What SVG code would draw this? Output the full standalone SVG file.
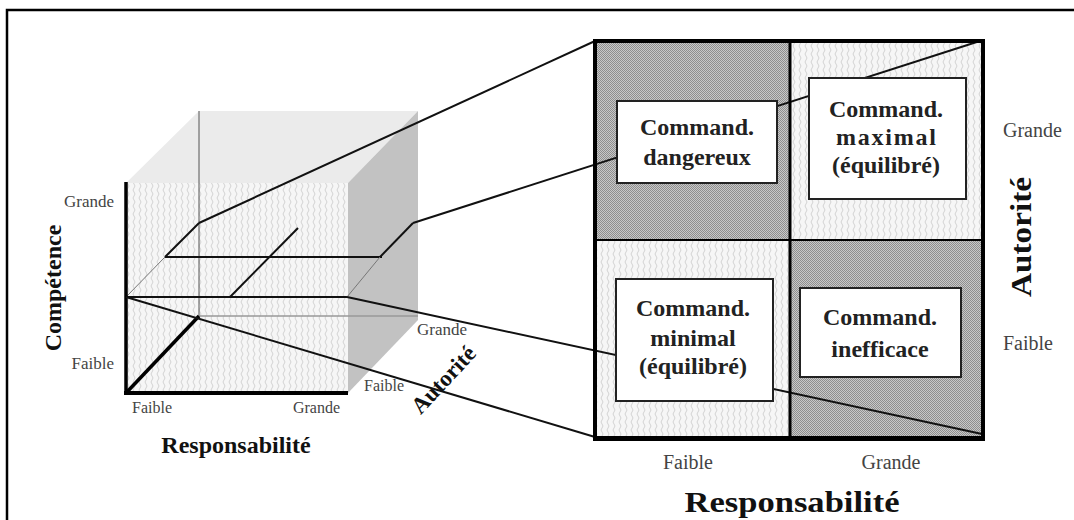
<svg xmlns="http://www.w3.org/2000/svg" width="1074" height="520" viewBox="0 0 1074 520">
<defs>
<pattern id="wave" width="6" height="8" patternUnits="userSpaceOnUse">
<rect width="6" height="8" fill="#f6f6f6"/>
<path d="M2,0 Q4,2 2,4 Q0,6 2,8" fill="none" stroke="#d2d2d2" stroke-width="1"/>
</pattern>
<pattern id="dots" width="2" height="2" patternUnits="userSpaceOnUse">
<rect width="2" height="2" fill="#c8c8c8"/>
<rect width="1" height="1" fill="#8e8e8e"/>
<rect x="1" y="1" width="1" height="1" fill="#8e8e8e"/>
</pattern>
</defs>
<style>
.lbl{font-family:"Liberation Serif","Times New Roman",serif;fill:#444}
.ttl{font-family:"Liberation Serif","Times New Roman",serif;font-weight:bold;fill:#111}
.box{fill:#fff;stroke:#222;stroke-width:2}
.btxt{font-family:"Liberation Serif","Times New Roman",serif;font-weight:bold;font-size:24px;fill:#222;text-anchor:middle}
.ln{stroke:#111;stroke-width:2;fill:none}
.conn{stroke:#111;stroke-width:2;fill:none}
</style>
<rect width="1074" height="520" fill="#fff"/>
<path d="M7,530 V10 H1080" fill="none" stroke="#000" stroke-width="2.5"/>

<g id="cube">
<polygon points="126,183 199,111 418,111 348,183" fill="#ebebeb"/>
<rect x="126" y="183" width="222" height="210" fill="url(#wave)"/>
<polygon points="348,183 418,111 418,320 348,393" fill="#c2c2c2"/>
<line x1="199" y1="111" x2="199" y2="316" stroke="#555" stroke-width="1"/>
<line x1="199" y1="316" x2="418" y2="316" stroke="#999" stroke-width="1.5"/>
<line x1="165" y1="257" x2="382" y2="257" class="ln"/>
<line x1="126" y1="297" x2="347" y2="297" class="ln"/>
<line x1="199" y1="223" x2="165" y2="257" class="ln"/>
<line x1="165" y1="257" x2="126" y2="297" stroke="#777" stroke-width="1"/>
<line x1="298" y1="228" x2="230" y2="297" class="ln"/>
<line x1="413" y1="223" x2="380" y2="257" class="ln"/>
<line x1="380" y1="257" x2="347" y2="297" stroke="#777" stroke-width="1"/>
<line x1="126" y1="182" x2="126" y2="395" stroke="#000" stroke-width="3.5"/>
<line x1="124" y1="393" x2="348" y2="393" stroke="#000" stroke-width="4"/>
<line x1="126" y1="393" x2="199" y2="316" stroke="#000" stroke-width="3.5"/>
</g>

<g id="matrix">
<rect x="595" y="41" width="195" height="199" fill="url(#dots)"/>
<rect x="790" y="41" width="193" height="199" fill="url(#wave)"/>
<rect x="595" y="240" width="195" height="198" fill="url(#wave)"/>
<rect x="790" y="240" width="193" height="198" fill="url(#dots)"/>
</g>

<g id="connectors">
<line x1="199" y1="223" x2="595" y2="41" class="conn"/>
<line x1="413" y1="223" x2="983" y2="40" class="conn"/>
<line x1="126" y1="297" x2="595" y2="437" class="conn"/>
<line x1="347" y1="297" x2="982" y2="434" class="conn"/>
</g>

<g id="matrix-frame" fill="none" stroke="#000">
<line x1="595" y1="240" x2="983" y2="240" stroke-width="2"/>
<line x1="790" y1="41" x2="790" y2="438" stroke-width="3"/>
<rect x="595" y="41" width="388" height="397" stroke-width="4"/>
<line x1="593" y1="439" x2="985" y2="439" stroke-width="4"/>
</g>

<g id="node-dangereux">
<rect class="box" x="617" y="101" width="160" height="82"/>
<text class="btxt" x="697" y="135">Command.</text>
<text class="btxt" x="697" y="165">dangereux</text>
</g>
<g id="node-maximal">
<rect class="box" x="809" y="78" width="157" height="121"/>
<text class="btxt" x="886" y="117">Command.</text>
<text class="btxt" x="886" y="145" textLength="100" lengthAdjust="spacing">maximal</text>
<text class="btxt" x="886" y="173">(équilibré)</text>
</g>
<g id="node-minimal">
<rect class="box" x="616" y="279" width="157" height="122"/>
<text class="btxt" x="693" y="316">Command.</text>
<text class="btxt" x="693" y="346">minimal</text>
<text class="btxt" x="693" y="374">(équilibré)</text>
</g>
<g id="node-inefficace">
<rect class="box" x="800" y="288" width="161" height="89"/>
<text class="btxt" x="880" y="325">Command.</text>
<text class="btxt" x="880" y="357">inefficace</text>
</g>

<g id="labels">
<text class="lbl" x="114" y="207" font-size="17" text-anchor="end">Grande</text>
<text class="lbl" x="114" y="369" font-size="17" text-anchor="end">Faible</text>
<text class="lbl" x="132" y="413" font-size="16">Faible</text>
<text class="lbl" x="340" y="413" font-size="16" text-anchor="end">Grande</text>
<text class="lbl" x="364" y="391" font-size="16">Faible</text>
<text class="lbl" x="417" y="335" font-size="17">Grande</text>
<text class="ttl" font-size="24" text-anchor="middle" transform="translate(61,288) rotate(-90)">Compétence</text>
<text class="ttl" x="236" y="453" font-size="24" text-anchor="middle">Responsabilité</text>
<text class="ttl" font-size="23" text-anchor="middle" transform="translate(449,385) rotate(-47)">Autorité</text>
<text class="lbl" x="1003" y="137" font-size="20">Grande</text>
<text class="lbl" x="1003" y="350" font-size="20">Faible</text>
<text class="ttl" font-size="30" text-anchor="middle" textLength="120" lengthAdjust="spacingAndGlyphs" transform="translate(1031,237) rotate(-90)">Autorité</text>
<text class="lbl" x="688" y="469" font-size="20" text-anchor="middle">Faible</text>
<text class="lbl" x="891" y="469" font-size="20" text-anchor="middle">Grande</text>
<text class="ttl" x="792" y="512" font-size="30" text-anchor="middle" textLength="215" lengthAdjust="spacingAndGlyphs">Responsabilité</text>
</g>
</svg>
